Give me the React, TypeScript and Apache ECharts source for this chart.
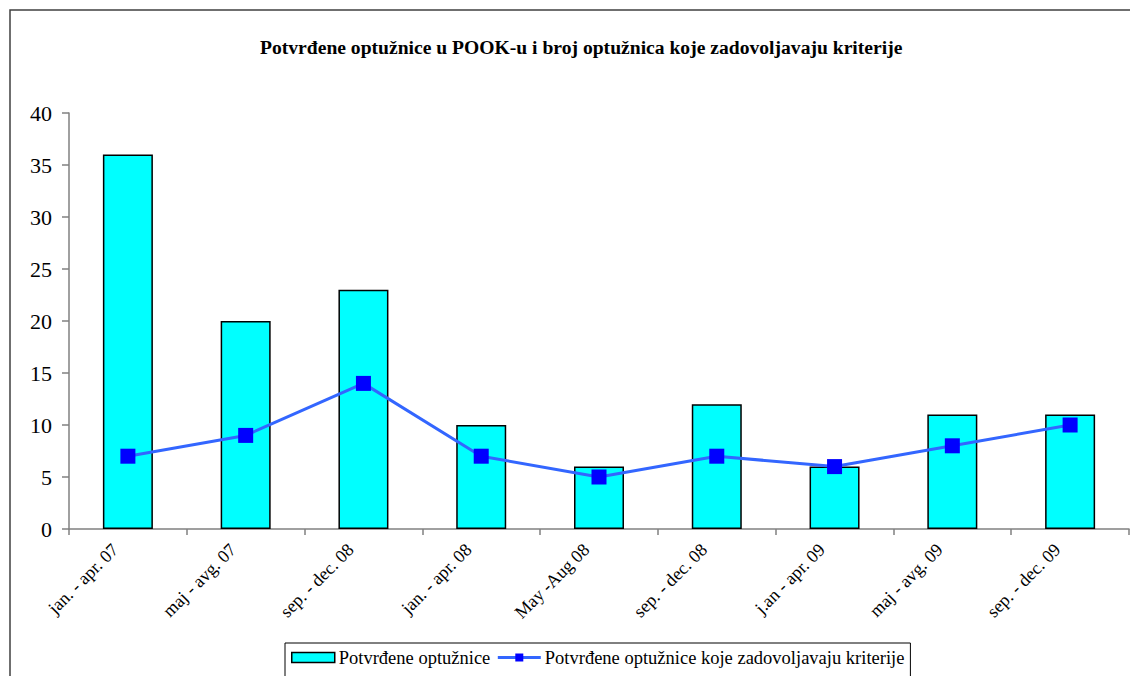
import React, { useEffect, useRef } from "react";
import * as echarts from "echarts";

const categories = [
  "jan. - apr. 07",
  "maj - avg. 07",
  "sep. - dec. 08",
  "jan. - apr. 08",
  "May -Aug 08",
  "sep. - dec. 08",
  "j.an - apr. 09",
  "maj - avg. 09",
  "sep. - dec. 09",
];
const confirmed = [36, 20, 23, 10, 6, 12, 6, 11, 11];
const meetingCriteria = [7, 9, 14, 7, 5, 7, 6, 8, 10];
const barName = "Potvrđene optužnice";
const lineName = "Potvrđene optužnice koje zadovoljavaju kriterije";
const titleText = "Potvrđene optužnice u POOK-u i broj optužnica koje zadovoljavaju kriterije";

const FONT = "Liberation Serif";

export default function App() {
  const ref = useRef<HTMLDivElement>(null);
  useEffect(() => {
    if (!ref.current) return;
    const chart = echarts.init(ref.current, null, { renderer: "svg" });
    chart.setOption({
      animation: false,
      backgroundColor: "#ffffff",
      textStyle: { fontFamily: FONT, color: "#000" },
      title: {
        text: titleText,
        left: 255,
        top: 32,
        textStyle: { fontFamily: FONT, fontSize: 19.6, fontWeight: "bold", color: "#000" },
      },
      graphic: [
        {
          type: "rect",
          shape: { x: 10, y: 10, width: 1140, height: 700 },
          style: { fill: "none", stroke: "#404040", lineWidth: 1.5 },
          silent: true,
        },
      ],
      legend: {
        left: 285,
        top: 643,
        padding: [5, 6, 20, 6],
        borderColor: "#000",
        borderWidth: 1,
        itemGap: 6,
        itemWidth: 43,
        itemHeight: 10,
        textStyle: { fontFamily: FONT, fontSize: 18.5, color: "#000", padding: [0, 0, 0, -1] },
        data: [
          { name: barName, icon: "rect", itemStyle: { borderColor: "#000", borderWidth: 1.5 } },
          { name: lineName, lineStyle: { width: 3, color: "#3366ff" } },
        ],
      },
      grid: { left: 69, right: 1, top: 113, bottom: 147, containLabel: false },
      xAxis: {
        type: "category",
        data: categories,
        axisLine: { lineStyle: { color: "#808080", width: 1.5 } },
        axisTick: { show: true, length: 6, lineStyle: { color: "#808080", width: 1.5 } },
        axisLabel: {
          rotate: 45,
          fontFamily: FONT,
          fontSize: 18,
          color: "#000",
          margin: 5,
          interval: 0,
          padding: [0, 18, 0, 0],
        },
      },
      yAxis: {
        type: "value",
        min: 0,
        max: 40,
        interval: 5,
        axisLine: { show: true, lineStyle: { color: "#808080", width: 1.5 } },
        axisTick: { show: true, length: 7, lineStyle: { color: "#808080", width: 1.5 } },
        splitLine: { show: false },
        axisLabel: { fontFamily: FONT, fontSize: 22, color: "#000", margin: 17 },
      },
      series: [
        {
          name: barName,
          type: "bar",
          data: confirmed,
          barWidth: 50,
          itemStyle: { color: "#00ffff", borderColor: "#000", borderWidth: 1.5 },
        },
        {
          name: lineName,
          type: "line",
          data: meetingCriteria,
          symbol: "rect",
          symbolSize: 15,
          lineStyle: { color: "#3366ff", width: 3 },
          itemStyle: { color: "#0000ff" },
          z: 5,
        },
      ],
    });
    return () => chart.dispose();
  }, []);
  return (
    <div
      ref={ref}
      style={{ position: "absolute", left: 0, top: 0, width: 1130, height: 676 }}
    />
  );
}
